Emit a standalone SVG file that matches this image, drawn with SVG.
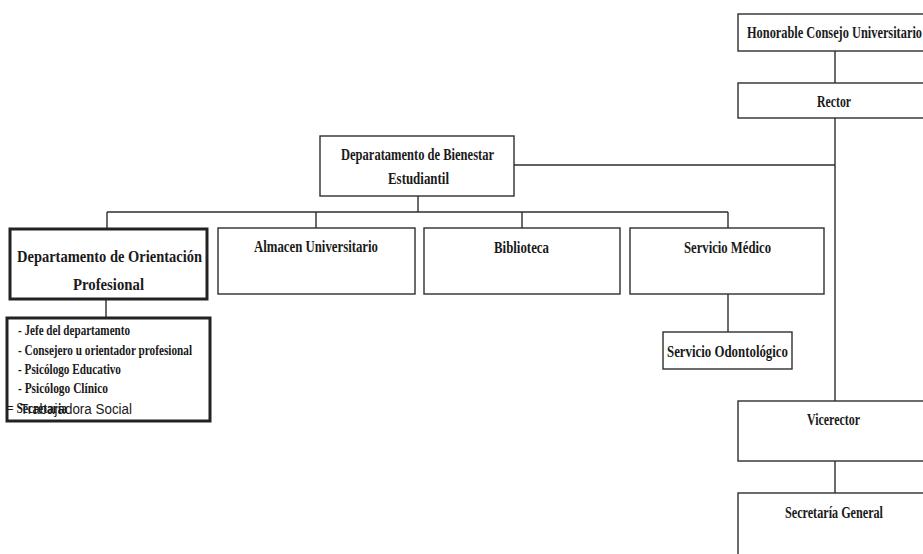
<svg xmlns="http://www.w3.org/2000/svg" width="923" height="554" viewBox="0 0 923 554">
<style>
.b{fill:#fff;stroke:#2e2e2e;stroke-width:1.4}
.k{fill:#fff;stroke:#222;stroke-width:3}
.t{font-family:"Liberation Serif","Times New Roman",serif;font-weight:bold;font-size:17px;fill:#1a1a1a}
.s{font-family:"Liberation Serif","Times New Roman",serif;font-weight:bold;font-size:14px;fill:#1a1a1a}
.c{stroke:#2e2e2e;stroke-width:1.4;fill:none}
</style>
<rect width="923" height="554" fill="#fff"/>
<g id="connectors">
<path class="c" d="M835 51V83M835 118V401M835 461V493M514 165H835M418 196V212M107 212H728M107 212V229M316 212V228M522 212V228M728 212V228M728 294V332M106 299V318"/>
</g>
<g id="honorable"><rect class="b" x="738" y="14" width="192" height="37"/><text class="t" x="747" y="38" textLength="175" lengthAdjust="spacingAndGlyphs">Honorable Consejo Universitario</text></g>
<g id="rector"><rect class="b" x="738" y="83" width="192" height="35"/><text class="t" x="817" y="107" textLength="34" lengthAdjust="spacingAndGlyphs">Rector</text></g>
<g id="bienestar"><rect class="b" x="320" y="136" width="194" height="60"/><text class="t" x="341" y="160" textLength="153" lengthAdjust="spacingAndGlyphs">Deparatamento de Bienestar</text><text class="t" x="388" y="184" textLength="61" lengthAdjust="spacingAndGlyphs">Estudiantil</text></g>
<g id="orientacion"><rect class="k" x="10" y="229" width="197" height="70"/><text class="t" x="17" y="262" font-size="20" textLength="185" lengthAdjust="spacingAndGlyphs">Departamento de Orientación</text><text class="t" x="73" y="290" font-size="20" textLength="71" lengthAdjust="spacingAndGlyphs">Profesional</text></g>
<g id="almacen"><rect class="b" x="218" y="228" width="197" height="66"/><text class="t" x="254" y="252" textLength="124" lengthAdjust="spacingAndGlyphs">Almacen Universitario</text></g>
<g id="biblioteca"><rect class="b" x="424" y="228" width="196" height="66"/><text class="t" x="494" y="253" textLength="55" lengthAdjust="spacingAndGlyphs">Biblioteca</text></g>
<g id="medico"><rect class="b" x="630" y="228" width="194" height="66"/><text class="t" x="684" y="253" textLength="87" lengthAdjust="spacingAndGlyphs">Servicio Médico</text></g>
<g id="odontologico"><rect class="b" x="663" y="332" width="129" height="37"/><text class="t" x="667" y="357" textLength="121" lengthAdjust="spacingAndGlyphs">Servicio Odontológico</text></g>
<g id="personal"><rect class="k" x="7" y="318" width="203" height="103"/>
<text class="s" x="18" y="335" textLength="112" lengthAdjust="spacingAndGlyphs">-  Jefe del departamento</text>
<text class="s" x="18" y="355" textLength="174" lengthAdjust="spacingAndGlyphs">-  Consejero u orientador profesional</text>
<text class="s" x="18" y="374" textLength="103" lengthAdjust="spacingAndGlyphs">-  Psicólogo Educativo</text>
<text class="s" x="18" y="393" textLength="90" lengthAdjust="spacingAndGlyphs">-  Psicólogo Clínico</text>
<text class="s" x="7" y="413" textLength="60" lengthAdjust="spacingAndGlyphs">= Secretaria</text>
<text x="20" y="414" font-family="Liberation Sans, Arial, sans-serif" font-size="14" fill="#1a1a1a" textLength="112" lengthAdjust="spacingAndGlyphs">Trabajadora Social</text>
</g>
<g id="vicerector"><rect class="b" x="738" y="401" width="192" height="60"/><text class="t" x="807" y="425" textLength="53" lengthAdjust="spacingAndGlyphs">Vicerector</text></g>
<g id="secretaria"><rect class="b" x="738" y="493" width="192" height="70"/><text class="t" x="785" y="518" textLength="98" lengthAdjust="spacingAndGlyphs">Secretaría General</text></g>
</svg>
